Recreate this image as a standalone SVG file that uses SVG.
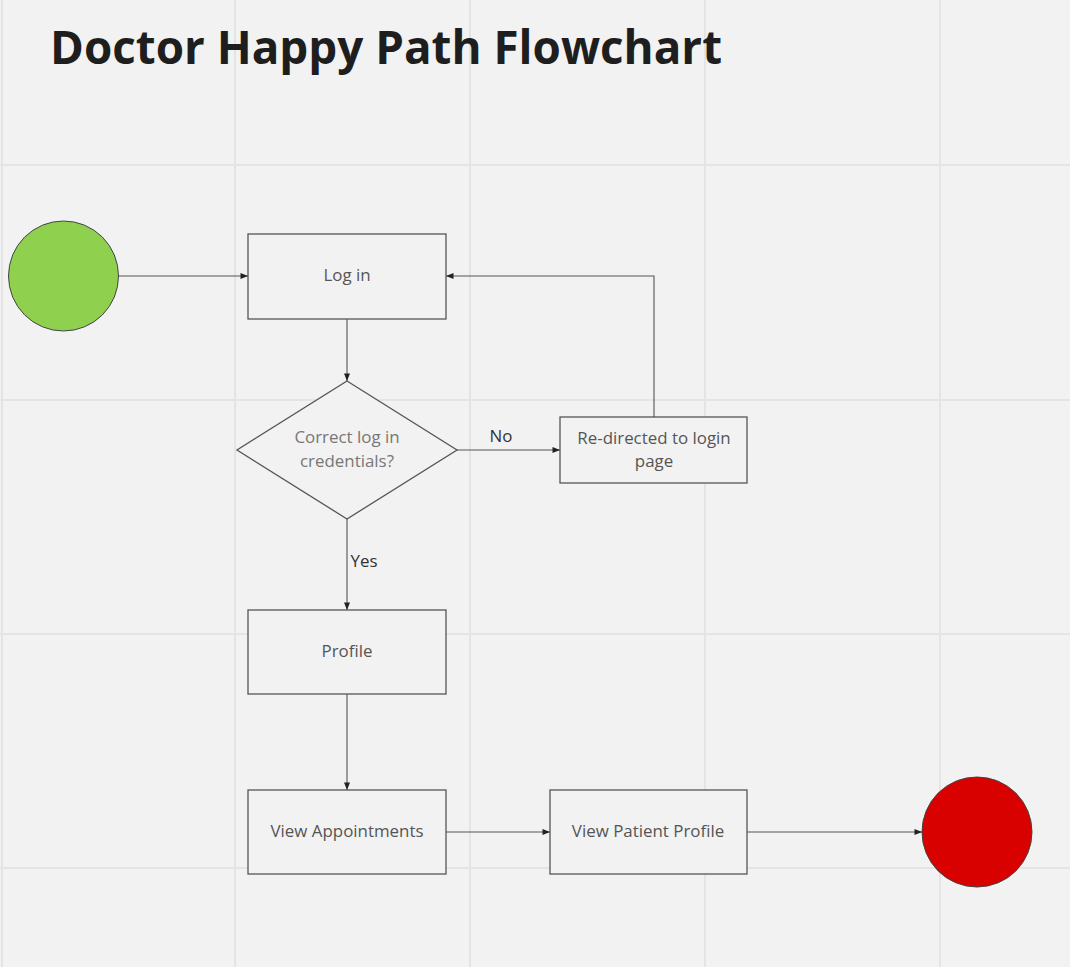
<svg xmlns="http://www.w3.org/2000/svg" width="1070" height="967" viewBox="0 0 1070 967">
<style>
.grid{stroke:#e4e4e4;stroke-width:2}
.box{fill:#f2f2f2;stroke:#555;stroke-width:1.3}
.lbl{font-family:"Open Sans",sans-serif;font-size:16.9px;fill:#555;text-anchor:middle}
.edge{fill:none;stroke:#555;stroke-width:1.1;marker-end:url(#arr)}
.elbl{font-family:"Open Sans",sans-serif;font-size:16.9px;fill:#333;text-anchor:middle}
</style>
<defs>
<marker id="arr" viewBox="0 0 10 8" refX="10" refY="4" markerWidth="8" markerHeight="6" markerUnits="userSpaceOnUse" orient="auto">
<path d="M0,0 L10,4 L0,8 Z" fill="#222"/>
</marker>
</defs>
<rect x="0" y="0" width="1070" height="967" fill="#f2f2f2"/>
<g id="grid">
<line class="grid" x1="2" y1="0" x2="2" y2="967"/>
<line class="grid" x1="235" y1="0" x2="235" y2="967"/>
<line class="grid" x1="470" y1="0" x2="470" y2="967"/>
<line class="grid" x1="705" y1="0" x2="705" y2="967"/>
<line class="grid" x1="940" y1="0" x2="940" y2="967"/>
<line class="grid" x1="0" y1="165" x2="1070" y2="165"/>
<line class="grid" x1="0" y1="400" x2="1070" y2="400"/>
<line class="grid" x1="0" y1="634" x2="1070" y2="634"/>
<line class="grid" x1="0" y1="868" x2="1070" y2="868"/>
</g>
<text x="50" y="64" font-family="'Open Sans',sans-serif" font-weight="700" font-size="46" fill="#1e1e1e" textLength="672" lengthAdjust="spacingAndGlyphs">Doctor Happy Path Flowchart</text>
<g id="connectors">
<line class="edge" x1="118" y1="276" x2="248" y2="276"/>
<line class="edge" x1="347" y1="319" x2="347" y2="381"/>
<line class="edge" x1="457" y1="450" x2="560" y2="450"/>
<polyline class="edge" points="654,417 654,276 446,276"/>
<line class="edge" x1="347" y1="519" x2="347" y2="610"/>
<line class="edge" x1="347" y1="694" x2="347" y2="790"/>
<line class="edge" x1="446" y1="832" x2="550" y2="832"/>
<line class="edge" x1="747" y1="832" x2="922" y2="832"/>
<text class="elbl" x="501" y="442">No</text>
<text class="elbl" x="364" y="567">Yes</text>
</g>
<g id="start">
<circle cx="63.5" cy="276" r="55" fill="#8fd14f" stroke="#444" stroke-width="1"/>
</g>
<g id="login">
<rect class="box" x="248" y="234" width="198" height="85"/>
<text class="lbl" x="347" y="281">Log in</text>
</g>
<g id="decision">
<polygon class="box" points="347,381 457,450 347,519 237,450"/>
<text class="lbl" x="347" y="443" style="fill:#777">Correct log in</text>
<text class="lbl" x="347" y="467" style="fill:#777">credentials?</text>
</g>
<g id="redirect">
<rect class="box" x="560" y="417" width="187" height="66"/>
<text class="lbl" x="654" y="444">Re-directed to login</text>
<text class="lbl" x="654" y="467">page</text>
</g>
<g id="profile">
<rect class="box" x="248" y="610" width="198" height="84"/>
<text class="lbl" x="347" y="657">Profile</text>
</g>
<g id="appointments">
<rect class="box" x="248" y="790" width="198" height="84"/>
<text class="lbl" x="347" y="837">View Appointments</text>
</g>
<g id="patient">
<rect class="box" x="550" y="790" width="197" height="84"/>
<text class="lbl" x="648" y="837">View Patient Profile</text>
</g>
<g id="end">
<circle cx="977" cy="832" r="55" fill="#d90000" stroke="#444" stroke-width="1"/>
</g>
</svg>
